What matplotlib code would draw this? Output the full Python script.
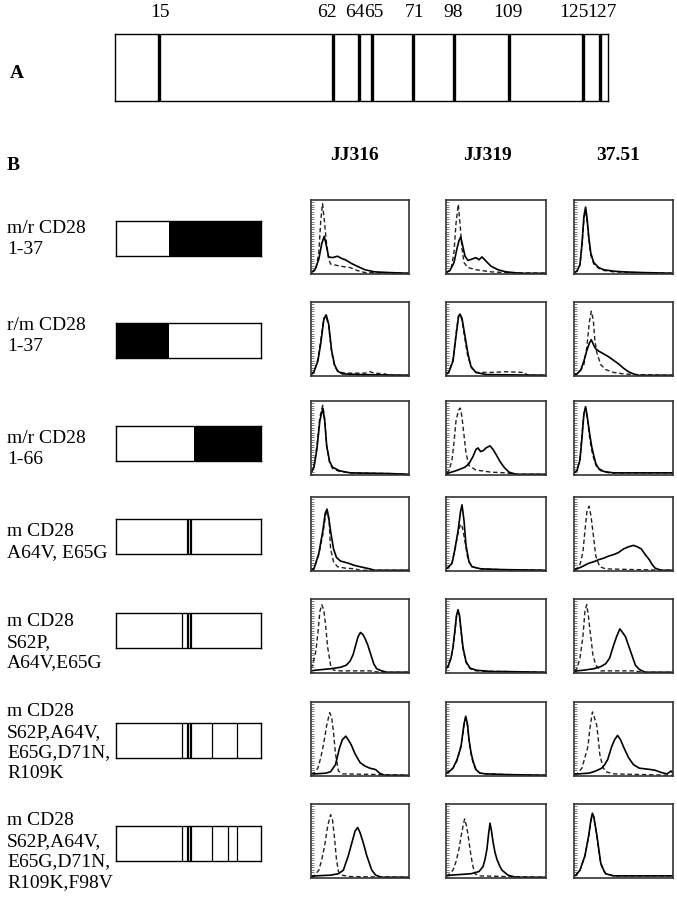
import matplotlib
matplotlib.use("Agg")
import matplotlib.pyplot as plt
import numpy as np

plt.rcParams['font.family'] = ['Liberation Serif', 'DejaVu Serif']

# ---- panel A: residue marks on the schematic bar (position = fraction of bar)
A_RESIDUES = ["15", "62", "64", "65", "71", "98", "109", "125", "127"]
A_MARK_POS = [0.089, 0.442, 0.495, 0.521, 0.604, 0.688, 0.799, 0.949, 0.983]
A_LABEL_POS = [0.091, 0.430, 0.486, 0.525, 0.608, 0.686, 0.797, 0.931, 0.988]

# ---- panel B: constructs
B_NAMES = [
    "m/r CD28\n1-37",
    "r/m CD28\n1-37",
    "m/r CD28\n1-66",
    "m CD28\nA64V, E65G",
    "m CD28\nS62P,\nA64V,E65G",
    "m CD28\nS62P,A64V,\nE65G,D71N,\nR109K",
    "m CD28\nS62P,A64V,\nE65G,D71N,\nR109K,F98V",
]
# residue -> position in the construct box (schematic, not to scale)
B_POS = {37: 0.366, 62: 0.455, 64: 0.497, 65: 0.52, 66: 0.538,
         71: 0.66, 98: 0.772, 109: 0.834}
# black (rat) segment of the chimeras: (start residue, end residue), None = open end
B_RAT = [(37, None), (None, 37), (66, None), None, None, None, None]
B_MUTS = [[], [], [], [64, 65], [62, 64, 65],
          [62, 64, 65, 71, 109], [62, 64, 65, 71, 98, 109]]

ANTIBODIES = ["JJ316", "JJ319", "37.51"]

# ---- histograms, (x, y), x and y as fraction of the box
JJ316_SOLID = [
    [(0, .01), (.04, .05), (.08, .2), (.11, .42), (.135, .52), (.155, .4), (.18, .23), (.22, .22), (.27, .24),
     (.31, .21), (.35, .19), (.41, .14), (.47, .1), (.55, .05), (.65, .02), (.8, .01), (1, 0)],
    [(0, .01), (.03, .05), (.07, .2), (.1, .45), (.13, .78), (.155, .85), (.18, .72), (.21, .35), (.24, .15),
     (.27, .06), (.32, .02), (.5, .01), (1, 0)],
    [(0, .02), (.03, .1), (.06, .35), (.09, .75), (.12, .93), (.14, .75), (.16, .4), (.19, .18), (.22, .1),
     (.29, .05), (.4, .02), (.8, .01), (1, 0)],
    [(0, .01), (.03, .02), (.08, .24), (.12, .55), (.145, .8), (.163, .86), (.18, .75), (.2, .55), (.23, .3),
     (.26, .18), (.3, .13), (.38, .1), (.44, .07), (.5, .05), (.6, .02), (.65, 0), (1, 0)],
    [(0, .02), (.05, .03), (.2, .05), (.3, .07), (.36, .1), (.4, .16), (.43, .25), (.46, .4), (.48, .5),
     (.505, .56), (.53, .53), (.55, .48), (.58, .38), (.61, .25), (.64, .12), (.67, .05), (.72, .02), (.78, 0), (1, 0)],
    [(0, .02), (.05, .02), (.15, .03), (.2, .05), (.25, .15), (.29, .38), (.32, .5), (.355, .55), (.38, .5),
     (.41, .43), (.45, .3), (.5, .18), (.55, .13), (.6, .1), (.63, .09), (.66, .08), (.7, .03), (.75, 0), (1, 0)],
    [(0, .01), (.05, .02), (.2, .03), (.28, .05), (.33, .1), (.38, .3), (.42, .5), (.45, .65), (.476, .7),
     (.5, .63), (.53, .5), (.57, .3), (.62, .1), (.66, .03), (.72, 0), (1, 0)],
]
JJ316_DASHED = [
    [(0, .01), (.05, .05), (.08, .3), (.1, .75), (.118, .98), (.135, .75), (.16, .4), (.18, .2), (.2, .13),
     (.3, .1), (.4, .08), (.47, .04), (.55, .01), (1, 0)],
    [(0, .01), (.03, .04), (.07, .22), (.1, .5), (.13, .8), (.15, .84), (.18, .7), (.21, .33), (.24, .13),
     (.28, .05), (.35, .03), (.55, .03), (.6, .05), (.65, .03), (.75, .02), (.8, 0), (1, 0)],
    [(0, .02), (.03, .1), (.06, .4), (.09, .8), (.12, .97), (.14, .78), (.16, .4), (.19, .16), (.22, .08),
     (.29, .04), (.4, .02), (.8, .01), (1, 0)],
    [(0, .01), (.03, .02), (.08, .22), (.12, .5), (.15, .78), (.168, .82), (.185, .68), (.2, .3), (.23, .12),
     (.27, .05), (.35, .03), (.45, .02), (.5, 0), (1, 0)],
    [(0, .05), (.02, .12), (.05, .3), (.07, .55), (.09, .85), (.11, .95), (.13, .88), (.15, .65), (.17, .35),
     (.2, .1), (.23, .03), (.3, .02), (.6, .02), (.7, 0), (1, 0)],
    [(0, .03), (.03, .03), (.07, .1), (.1, .25), (.13, .45), (.16, .7), (.19, .88), (.21, .82), (.23, .6),
     (.25, .3), (.28, .06), (.32, .02), (.7, .01), (1, 0)],
    [(0, .01), (.03, .02), (.08, .1), (.11, .25), (.14, .45), (.17, .72), (.2, .88), (.22, .8), (.24, .55),
     (.26, .25), (.28, .08), (.31, .03), (.4, .01), (1, 0)],
]
JJ319_SOLID = [
    [(0, .01), (.04, .04), (.08, .15), (.11, .35), (.13, .46), (.147, .51), (.165, .4), (.19, .24), (.22, .18),
     (.26, .2), (.3, .22), (.33, .19), (.36, .23), (.4, .17), (.45, .1), (.52, .05), (.6, .02), (.75, 0), (1, 0)],
    [(0, .01), (.03, .05), (.07, .2), (.1, .55), (.125, .82), (.14, .86), (.16, .8), (.19, .55), (.22, .3),
     (.25, .12), (.3, .04), (.4, .01), (1, 0)],
    [(0, .01), (.03, .02), (.1, .05), (.19, .1), (.23, .15), (.27, .25), (.3, .35), (.32, .37), (.345, .32),
     (.37, .33), (.4, .37), (.44, .4), (.47, .35), (.5, .28), (.54, .18), (.58, .1), (.63, .03), (.7, 0), (1, 0)],
    [(0, .02), (.03, .05), (.06, .1), (.09, .3), (.12, .55), (.145, .82), (.16, .92), (.18, .7), (.2, .35),
     (.23, .12), (.26, .05), (.35, .02), (.55, .01), (1, 0)],
    [(0, .05), (.02, .08), (.05, .2), (.07, .35), (.09, .6), (.105, .8), (.12, .88), (.135, .8), (.15, .6),
     (.17, .35), (.2, .15), (.24, .06), (.3, .03), (.45, .01), (.6, .01), (1, 0)],
    [(0, .03), (.03, .05), (.07, .1), (.11, .22), (.15, .4), (.18, .72), (.197, .83), (.215, .72), (.23, .5),
     (.25, .32), (.27, .2), (.3, .08), (.34, .03), (.4, .02), (.6, .01), (1, 0)],
    [(0, .02), (.05, .03), (.15, .04), (.25, .05), (.33, .08), (.37, .15), (.39, .25), (.41, .4), (.425, .6),
     (.44, .76), (.455, .65), (.47, .5), (.49, .35), (.51, .25), (.54, .15), (.56, .1), (.62, .03), (.7, 0), (1, 0)],
]
JJ319_DASHED = [
    [(0, .01), (.05, .05), (.08, .3), (.1, .7), (.123, .97), (.14, .7), (.16, .35), (.18, .15), (.22, .08),
     (.3, .05), (.45, .02), (.6, .01), (1, 0)],
    [(0, .01), (.03, .05), (.07, .22), (.1, .58), (.125, .84), (.14, .85), (.16, .78), (.19, .5), (.22, .25),
     (.26, .1), (.3, .04), (.45, .04), (.6, .05), (.78, .04), (.82, 0), (1, 0)],
    [(0, .02), (.03, .05), (.06, .2), (.08, .45), (.1, .75), (.125, .9), (.143, .93), (.16, .8), (.18, .55),
     (.2, .3), (.23, .12), (.3, .06), (.45, .03), (.6, .02), (.7, 0), (1, 0)],
    [(0, .02), (.03, .05), (.06, .1), (.09, .3), (.12, .52), (.145, .65), (.165, .6), (.19, .4), (.22, .15),
     (.26, .05), (.35, .02), (.55, .01), (1, 0)],
    [(0, .05), (.02, .08), (.05, .2), (.07, .33), (.09, .58), (.105, .78), (.12, .85), (.135, .78), (.15, .58),
     (.17, .33), (.2, .14), (.24, .05), (.3, .02), (.6, .01), (1, 0)],
    [(0, .03), (.03, .05), (.07, .1), (.11, .2), (.15, .42), (.18, .7), (.197, .8), (.215, .7), (.23, .48),
     (.25, .3), (.27, .18), (.3, .07), (.34, .03), (.4, .02), (.6, .01), (1, 0)],
    [(0, .02), (.03, .04), (.07, .1), (.1, .22), (.13, .4), (.16, .65), (.186, .82), (.205, .72), (.22, .6),
     (.25, .3), (.27, .15), (.29, .05), (.33, .02), (.6, .01), (1, 0)],
]
A3751_SOLID = [
    [(0, .01), (.03, .03), (.06, .12), (.08, .4), (.1, .8), (.117, .93), (.13, .8), (.15, .5), (.17, .28),
     (.2, .15), (.25, .08), (.3, .05), (.4, .03), (.5, .02), (.7, .01), (1, 0)],
    [(0, .01), (.03, .02), (.07, .08), (.1, .2), (.13, .35), (.155, .45), (.175, .5), (.2, .42), (.22, .37),
     (.25, .34), (.3, .3), (.35, .26), (.4, .21), (.45, .16), (.5, .1), (.55, .05), (.6, .02), (.65, 0), (1, 0)],
    [(0, .02), (.03, .05), (.06, .2), (.08, .5), (.1, .85), (.117, .95), (.135, .8), (.16, .55), (.18, .38),
     (.195, .29), (.22, .15), (.25, .08), (.3, .04), (.4, .02), (1, .02)],
    [(0, .01), (.03, .02), (.08, .05), (.15, .1), (.2, .12), (.25, .15), (.3, .17), (.35, .2), (.4, .22),
     (.45, .25), (.5, .3), (.55, .33), (.6, .35), (.64, .33), (.68, .3), (.72, .22), (.76, .15), (.79, .08),
     (.82, .03), (.88, 0), (1, 0)],
    [(0, .01), (.03, .02), (.1, .03), (.2, .05), (.27, .08), (.32, .12), (.36, .2), (.4, .38), (.43, .5),
     (.463, .61), (.49, .56), (.52, .5), (.55, .38), (.57, .3), (.6, .18), (.62, .1), (.66, .04), (.72, 0), (1, 0)],
    [(0, .02), (.05, .02), (.15, .03), (.2, .05), (.25, .08), (.28, .1), (.31, .15), (.34, .22), (.38, .4),
     (.41, .5), (.44, .56), (.47, .5), (.5, .4), (.55, .25), (.6, .15), (.66, .1), (.72, .09), (.78, .08),
     (.82, .07), (.88, .04), (.94, .02), (.98, .06), (1, .03)],
    [(0, .02), (.02, .03), (.06, .1), (.11, .3), (.15, .6), (.17, .8), (.186, .9), (.2, .85), (.23, .6),
     (.25, .4), (.27, .2), (.3, .1), (.32, .05), (.4, .02), (1, .02)],
]
A3751_DASHED = [
    [(0, .01), (.03, .03), (.06, .12), (.08, .38), (.1, .75), (.117, .88), (.13, .76), (.15, .48), (.17, .25),
     (.2, .13), (.25, .07), (.3, .04), (.4, .02), (.6, .01), (1, 0)],
    [(0, .01), (.05, .03), (.1, .15), (.13, .4), (.155, .75), (.175, .9), (.195, .78), (.21, .5), (.23, .32),
     (.27, .15), (.32, .08), (.4, .04), (.5, .02), (.6, .01), (1, 0)],
    [(0, .02), (.03, .05), (.06, .22), (.08, .55), (.1, .86), (.117, .93), (.135, .78), (.16, .5), (.18, .33),
     (.2, .22), (.23, .1), (.27, .05), (.35, .02), (1, .02)],
    [(0, .01), (.03, .03), (.06, .08), (.09, .25), (.11, .55), (.13, .82), (.15, .9), (.17, .78), (.195, .5),
     (.22, .2), (.26, .05), (.32, .02), (.6, .01), (1, 0)],
    [(0, .02), (.03, .05), (.06, .2), (.09, .5), (.11, .85), (.128, .95), (.145, .8), (.16, .6), (.17, .5),
     (.19, .25), (.22, .1), (.27, .02), (.6, .02), (.7, 0), (1, 0)],
    [(0, .02), (.03, .02), (.08, .1), (.11, .25), (.14, .4), (.16, .65), (.186, .89), (.205, .82), (.23, .7),
     (.25, .45), (.26, .3), (.29, .12), (.32, .05), (.4, .02), (.7, .01), (1, 0)],
    [(0, .02), (.02, .03), (.06, .1), (.11, .3), (.15, .58), (.17, .78), (.186, .88), (.2, .84), (.23, .58),
     (.25, .38), (.27, .19), (.3, .09), (.32, .05), (.4, .02), (1, .02)],
]
SOLID = [JJ316_SOLID, JJ319_SOLID, A3751_SOLID]
DASHED = [JJ316_DASHED, JJ319_DASHED, A3751_DASHED]

# ---- layout (pixels of the 677 x 899 figure)
W, H = 677, 899
FS = 14
HIST_X = [(311, 409), (446, 546), (574, 673)]
HIST_TOP = [200, 302, 401, 497, 599, 702, 804]
HIST_H = 74
HEAD_X = [354, 487, 618]
BOX_X = (116, 261)
BOX_TOP = [221, 323, 426, 519, 613, 723, 826]
BOX_H = 35
LABEL_TOP = [220, 317, 430, 523, 613, 703, 812]


def px_axes(fig, x0, x1, y0, y1):
    return fig.add_axes([x0 / W, 1 - y1 / H, (x1 - x0) / W, (y1 - y0) / H])


def px_text(fig, x, y, s, **kw):
    return fig.text(x / W, 1 - y / H, s, fontsize=FS, **kw)


fig = plt.figure(figsize=(W / 100, H / 100), dpi=100)

# panel A
px_text(fig, 10, 65, "A", fontweight="bold", va="top")
ax = px_axes(fig, 115, 608, 34, 101)
ax.set_xlim(0, 1)
ax.set_ylim(0, 1)
for p in A_MARK_POS:
    ax.axvline(p, color="black", lw=2.4)
for s in ax.spines.values():
    s.set_linewidth(1.0)
ax.set_xticks([])
ax.set_yticks([])
for lab, p in zip(A_RESIDUES, A_LABEL_POS):
    px_text(fig, 115 + p * (608 - 115), 4, lab, ha="center", va="top")

# panel B headers
px_text(fig, 7, 157, "B", fontweight="bold", va="top")
for name, x in zip(ANTIBODIES, HEAD_X):
    px_text(fig, x, 147, name, fontweight="bold", ha="center", va="top")

for i, name in enumerate(B_NAMES):
    # row label
    px_text(fig, 7, LABEL_TOP[i], name, va="top", linespacing=1.28)

    # construct box
    ax = px_axes(fig, BOX_X[0], BOX_X[1], BOX_TOP[i], BOX_TOP[i] + BOX_H)
    ax.set_xlim(0, 1)
    ax.set_ylim(0, 1)
    if B_RAT[i] is not None:
        a, b = B_RAT[i]
        x0 = 0 if a is None else B_POS[a]
        x1 = 1 if b is None else B_POS[b]
        ax.axvspan(x0, x1, color="black", lw=0)
    for r in B_MUTS[i]:
        ax.axvline(B_POS[r], color="black", lw=1.6 if r in (64, 65) else 0.9)
    for s in ax.spines.values():
        s.set_linewidth(1.0)
    ax.set_xticks([])
    ax.set_yticks([])

    # flow histograms
    for j in range(3):
        ax = px_axes(fig, HIST_X[j][0], HIST_X[j][1], HIST_TOP[i], HIST_TOP[i] + HIST_H)
        sx, sy = zip(*SOLID[j][i])
        dx, dy = zip(*DASHED[j][i])
        ax.plot(dx, dy, color="#222222", lw=1.0, dashes=(3.2, 2.0))
        ax.plot(sx, sy, color="black", lw=1.2)
        ax.set_xlim(0, 1)
        ax.set_ylim(-0.01, 1.03)
        ax.set_xticks([])
        ax.set_yticks(np.linspace(0, 1, 30))
        ax.tick_params(axis="y", direction="in", length=2, width=0.5,
                       labelleft=False, color="#444444")
        for s in ax.spines.values():
            s.set_linewidth(1.2)
            s.set_color("#333333")

fig.savefig("out.png", dpi=100, facecolor="white")
